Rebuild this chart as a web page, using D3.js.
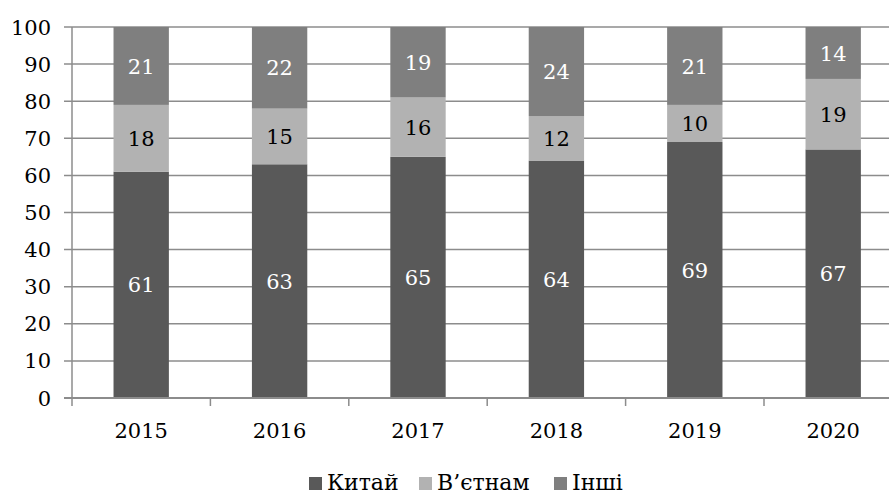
<!DOCTYPE html>
<html>
<head>
<meta charset="utf-8">
<script src="https://cdn.jsdelivr.net/npm/d3@7"></script>
<style>
body { margin: 0; background: #fff; }
</style>
</head>
<body>
<script>
var years = ["2015", "2016", "2017", "2018", "2019", "2020"];
var china = [61, 63, 65, 64, 69, 67];
var vietnam = [18, 15, 16, 12, 10, 19];
var others = [21, 22, 19, 24, 21, 14];
var seriesNames = ["Китай", "В’єтнам", "Інші"];
var yTicks = [0, 10, 20, 30, 40, 50, 60, 70, 80, 90, 100];

var colors = ["#595959", "#b2b2b2", "#7f7f7f"];
var labelColors = ["#fff", "#000", "#fff"];

var FONT = "'DejaVu Serif', 'Liberation Serif', 'Times New Roman', serif";

var width = 889, height = 496;
var margin = { top: 27, right: 0, bottom: 98, left: 72 };

var svg = d3.select("body").append("svg")
    .attr("width", width)
    .attr("height", height)
    .attr("font-family", FONT);

function label(parent, x, y, txt, anchor, fill, dy, fs) {
    parent.append("text")
        .attr("x", x)
        .attr("y", y)
        .attr("font-family", FONT)
        .attr("font-size", fs || 21)
        .attr("text-anchor", anchor)
        .attr("dy", dy || 0)
        .attr("fill", fill || "#000")
        .text(txt);
}

var rows = years.map(function (y, i) {
    return { year: y, china: china[i], vietnam: vietnam[i], others: others[i] };
});
var stack = d3.stack().keys(["china", "vietnam", "others"]);
var layers = stack(rows);

// x band runs past the right edge, as in the original crop
var x = d3.scaleBand()
    .domain(years)
    .range([margin.left, margin.left + 138.4 * years.length])
    .paddingInner(0.6)
    .paddingOuter(0.3);

var y = d3.scaleLinear()
    .domain([0, 100])
    .range([398, margin.top]);

// gridlines
svg.append("g")
    .selectAll("line")
    .data(yTicks)
    .enter().append("line")
    .attr("x1", margin.left - 8)
    .attr("x2", width)
    .attr("y1", function (d) { return y(d); })
    .attr("y2", function (d) { return y(d); })
    .attr("stroke", "#8c8c8c")
    .attr("stroke-width", 1.5);

// y tick labels
var yl = svg.append("g");
yTicks.forEach(function (d) { label(yl, 51, y(d), d, "end", "#000", "0.36em"); });

// bars
var layer = svg.append("g")
    .selectAll("g")
    .data(layers)
    .enter().append("g")
    .attr("fill", function (d, i) { return colors[i]; });

layer.selectAll("rect")
    .data(function (d) { return d; })
    .enter().append("rect")
    .attr("x", function (d) { return x(d.data.year); })
    .attr("width", x.bandwidth())
    .attr("y", function (d) { return y(d[1]); })
    .attr("height", function (d) { return y(d[0]) - y(d[1]); });

// value labels
var vl = svg.append("g");
layers.forEach(function (ly, i) {
    ly.forEach(function (d) {
        label(vl, x(d.data.year) + x.bandwidth() / 2, y((d[0] + d[1]) / 2),
            d[1] - d[0], "middle", labelColors[i], "0.36em");
    });
});

// axes lines
svg.append("line")
    .attr("x1", margin.left).attr("x2", margin.left)
    .attr("y1", y(100)).attr("y2", y(0) + 8)
    .attr("stroke", "#8c8c8c").attr("stroke-width", 1.5);
svg.append("line")
    .attr("x1", margin.left - 8).attr("x2", width)
    .attr("y1", y(0)).attr("y2", y(0))
    .attr("stroke", "#8c8c8c").attr("stroke-width", 2);

// category ticks between bands
svg.append("g")
    .selectAll("line")
    .data(years.slice(1))
    .enter().append("line")
    .attr("x1", function (d) { return x(d) - x.step() * x.paddingInner() / 2; })
    .attr("x2", function (d) { return x(d) - x.step() * x.paddingInner() / 2; })
    .attr("y1", y(0))
    .attr("y2", y(0) + 8)
    .attr("stroke", "#8c8c8c").attr("stroke-width", 1.5);

// year labels
var xl = svg.append("g");
years.forEach(function (d) { label(xl, x(d) + x.bandwidth() / 2, 438, d, "middle"); });

// legend
var legendX = [309, 419, 554];
var lg = svg.append("g");
seriesNames.forEach(function (d, i) {
    lg.append("rect")
        .attr("x", legendX[i]).attr("y", 477)
        .attr("width", 13).attr("height", 13)
        .attr("fill", colors[i]);
    label(lg, legendX[i] + 18, 490, d, "start", "#000", 0, 22);
});
</script>
</body>
</html>
